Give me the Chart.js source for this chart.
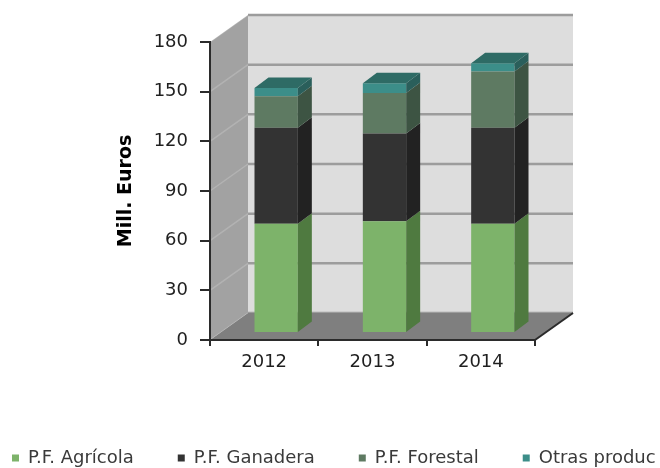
<!DOCTYPE html>
<html>
<head>
<meta charset="utf-8">
<script src="https://cdn.jsdelivr.net/npm/chart.js@4"></script>
<style>
  html, body { margin: 0; padding: 0; background: #fff; }
  #wrap { width: 660px; height: 468px; }
</style>
</head>
<body>
<div id="wrap"><canvas id="produccion"></canvas></div>
<script>
// Produccion final por sectores, Mill. Euros

const years = ['2012', '2013', '2014'];
const agricola = [66, 67.5, 66];
const ganadera = [58, 53, 58];
const forestal = [19, 24.5, 34];
const otras = [5, 5.8, 5];
const yTicks = [0, 30, 60, 90, 120, 150, 180];

const FONT = "'DejaVu Sans', Verdana, sans-serif";
const DEPTH = { x: 38, y: -27 };       // walls and floor
const BAR_SHIFT = { x: 12, y: -7 };    // bars stand a little back from the front plane
const BAR_DEPTH = { x: 14, y: -10.5 };

function poly(ctx, pts, fill) {
  ctx.beginPath();
  ctx.moveTo(pts[0][0], pts[0][1]);
  for (let i = 1; i < pts.length; i++) ctx.lineTo(pts[i][0], pts[i][1]);
  ctx.closePath();
  ctx.fillStyle = fill;
  ctx.fill();
}

// Fake 3D box: walls, floor and the side/top faces of the bars
const box3d = {
  id: 'box3d',
  beforeDraw: function(chart) {
    const ctx = chart.ctx;
    const a = chart.chartArea;
    const y = chart.scales.y;
    const dx = DEPTH.x, dy = DEPTH.y;
    ctx.save();
    // back wall
    poly(ctx, [[a.left + dx, a.top + dy], [a.right + dx, a.top + dy], [a.right + dx, a.bottom + dy], [a.left + dx, a.bottom + dy]], '#dddddd');
    // left wall
    poly(ctx, [[a.left, a.top], [a.left + dx, a.top + dy], [a.left + dx, a.bottom + dy], [a.left, a.bottom]], '#a2a2a2');
    yTicks.forEach(function(v) {
      const py = y.getPixelForValue(v);
      ctx.strokeStyle = '#9c9c9c';
      ctx.lineWidth = 2.5;
      ctx.beginPath();
      ctx.moveTo(a.left + dx, py + dy);
      ctx.lineTo(a.right + dx, py + dy);
      ctx.stroke();
      ctx.strokeStyle = 'rgba(255,255,255,0.18)';
      ctx.lineWidth = 1.5;
      ctx.beginPath();
      ctx.moveTo(a.left, py);
      ctx.lineTo(a.left + dx, py + dy);
      ctx.stroke();
    });
    // floor
    poly(ctx, [[a.left, a.bottom], [a.right, a.bottom], [a.right + dx, a.bottom + dy], [a.left + dx, a.bottom + dy]], '#7f7f7f');
    ctx.strokeStyle = '#2b2b2b';
    ctx.lineWidth = 2;
    ctx.beginPath();
    ctx.moveTo(a.right, a.bottom);
    ctx.lineTo(a.right + dx, a.bottom + dy);
    ctx.stroke();
    ctx.restore();
  },
  beforeDatasetsDraw: function(chart) {
    chart.ctx.save();
    chart.ctx.translate(BAR_SHIFT.x, BAR_SHIFT.y);
  },
  afterDatasetsDraw: function(chart) {
    const ctx = chart.ctx;
    const bx = BAR_DEPTH.x, by = BAR_DEPTH.y;
    chart.data.labels.forEach(function(label, i) {
      let topBar = null, topSet = null;
      chart.data.datasets.forEach(function(ds, d) {
        const bar = chart.getDatasetMeta(d).data[i];
        const x1 = bar.x + bar.width / 2;
        poly(ctx, [[x1, bar.y], [x1 + bx, bar.y + by], [x1 + bx, bar.base + by], [x1, bar.base]], ds.sideColor);
        topBar = bar;
        topSet = ds;
      });
      const x0 = topBar.x - topBar.width / 2, x1 = topBar.x + topBar.width / 2;
      poly(ctx, [[x0, topBar.y], [x1, topBar.y], [x1 + bx, topBar.y + by], [x0 + bx, topBar.y + by]], topSet.topColor);
    });
    ctx.restore();
  }
};

const produccionChart = new Chart(document.getElementById('produccion'), {
  type: 'bar',
  data: {
    labels: years,
    datasets: [{
      label: 'P.F. Agrícola',
      data: agricola,
      backgroundColor: '#7db36a',
      sideColor: '#4f7a40',
      topColor: '#6a9a5a'
    }, {
      label: 'P.F. Ganadera',
      data: ganadera,
      backgroundColor: '#333333',
      sideColor: '#222222',
      topColor: '#2a2a2a'
    }, {
      label: 'P.F. Forestal',
      data: forestal,
      backgroundColor: '#5e7a62',
      sideColor: '#3d5443',
      topColor: '#4b6550'
    }, {
      label: 'Otras produc',
      data: otras,
      backgroundColor: '#3c8e89',
      sideColor: '#2a5f5b',
      topColor: '#2e6b65'
    }]
  },
  options: {
    responsive: true,
    maintainAspectRatio: false,
    animation: false,
    devicePixelRatio: 1,
    categoryPercentage: 1,
    barPercentage: 0.4,
    layout: { padding: { left: -32, right: -90, top: 42, bottom: -9 } },
    plugins: {
      tooltip: { enabled: false },
      legend: {
        position: 'bottom',
        align: 'start',
        labels: {
          boxWidth: 7,
          boxHeight: 7,
          padding: 44,
          color: '#3a3a3a',
          font: { family: FONT, size: 18 }
        }
      }
    },
    scales: {
      x: {
        stacked: true,
        afterFit: function(s) { s.height = 65; },
        ticks: { padding: 6, color: '#1f1f1f', font: { family: FONT, size: 18 } },
        grid: { offset: true, drawOnChartArea: false, tickLength: 6, color: '#2b2b2b', lineWidth: 2 },
        border: { color: '#2b2b2b', width: 2 }
      },
      y: {
        stacked: true,
        min: 0,
        max: 180,
        afterFit: function(s) { s.width = 242; },
        afterBuildTicks: function(s) { s.ticks = yTicks.map(function(v) { return { value: v }; }); },
        ticks: { padding: 12, color: '#1f1f1f', font: { family: FONT, size: 18 } },
        grid: { drawOnChartArea: false, tickLength: 10, color: '#2b2b2b', lineWidth: 2 },
        border: { color: '#2b2b2b', width: 2 },
        title: {
          display: true,
          text: 'Mill. Euros',
          color: '#000',
          font: { family: FONT, size: 19, weight: 'bold' },
          padding: { top: 146.6, bottom: 0 }
        }
      },
      right: {
        position: 'right',
        afterFit: function(s) { s.width = 215; },
        ticks: { display: false },
        grid: { display: false },
        border: { display: false }
      }
    }
  },
  plugins: [box3d]
});
</script>
</body>
</html>
